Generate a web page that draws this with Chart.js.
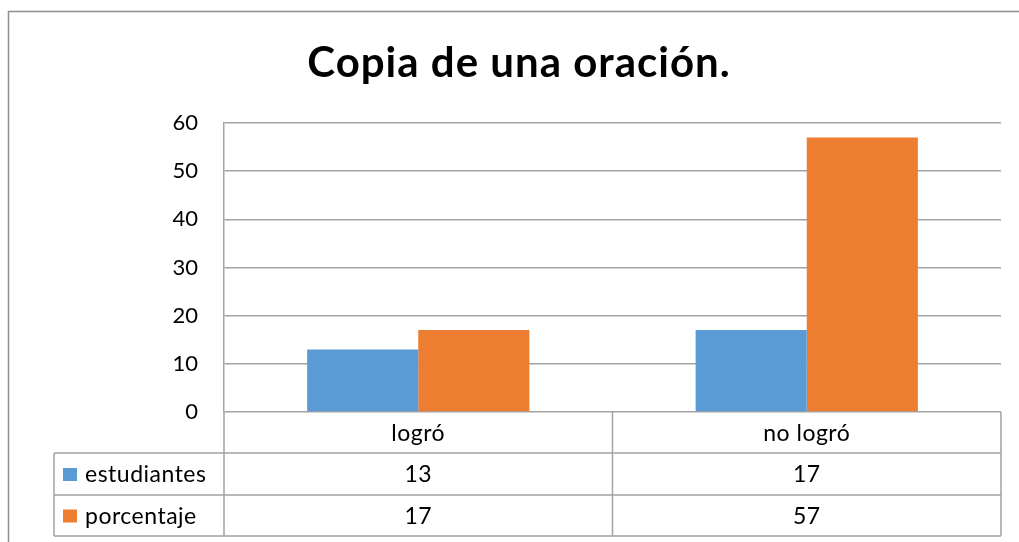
<!DOCTYPE html>
<html><head><meta charset="utf-8">
<script src="https://cdn.jsdelivr.net/npm/chart.js@4/dist/chart.umd.min.js"></script>
<style>html,body{margin:0;padding:0;background:#fff}#wrap{width:1019px;height:542px;position:relative}</style>
</head><body><div id="wrap"><canvas id="c" width="1019" height="542"></canvas></div>
<script>
const chartTitle = 'Copia de una oración.';
const categories = ['logró', 'no logró'];
const seriesNames = ['estudiantes', 'porcentaje'];
const estudiantes = [13, 17];
const porcentaje = [17, 57];
const yMin = 0, yMax = 60, yStep = 10;
const seriesColors = ['#5B9BD5', '#ED7D31'];
const seriesValues = [estudiantes, porcentaje];

const FONT = 'Lato, "Liberation Sans", sans-serif';
const GRID = '#a3a3a3';

const tablePlugin = {
  id: 'tablePlugin',
  afterDraw(chart) {
    const ctx = chart.ctx, ca = chart.chartArea, xs = chart.scales.x;
    ctx.save();
    // outer border
    ctx.strokeStyle = '#8f8f8f'; ctx.lineWidth = 1.5;
    ctx.strokeRect(8.5, 11.5, 1030, 560);
    // title
    ctx.fillStyle = '#000';
    ctx.font = 'bold 42px ' + FONT;
    ctx.letterSpacing = '1px';
    ctx.textAlign = 'center'; ctx.textBaseline = 'alphabetic';
    ctx.fillText(chartTitle, 519, 77);
    // table geometry
    const top = ca.bottom;
    const rows = [top, top + 41, top + 83, top + 124];
    const legLeft = 54;
    const mid = (xs.getPixelForValue(0) + xs.getPixelForValue(1)) / 2;
    ctx.strokeStyle = GRID; ctx.lineWidth = 1.5;
    ctx.beginPath();
    ctx.moveTo(legLeft, rows[1]); ctx.lineTo(ca.right, rows[1]);
    ctx.moveTo(legLeft, rows[2]); ctx.lineTo(ca.right, rows[2]);
    ctx.moveTo(legLeft, rows[3]); ctx.lineTo(ca.right, rows[3]);
    ctx.moveTo(legLeft, rows[1]); ctx.lineTo(legLeft, rows[3]);
    ctx.moveTo(ca.left, rows[0]); ctx.lineTo(ca.left, rows[3]);
    ctx.moveTo(mid, rows[0]); ctx.lineTo(mid, rows[3]);
    ctx.moveTo(ca.right, rows[0]); ctx.lineTo(ca.right, rows[3]);
    ctx.stroke();
    // text
    ctx.font = '23px ' + FONT;
    ctx.letterSpacing = '0.5px';
    ctx.fillStyle = '#000';
    ctx.textBaseline = 'middle';
    ctx.textAlign = 'center';
    categories.forEach((c, i) => ctx.fillText(c, xs.getPixelForValue(i), (rows[0] + rows[1]) / 2 + 1));
    seriesValues.forEach((vals, r) => {
      const cy = (rows[r + 1] + rows[r + 2]) / 2 + 1;
      vals.forEach((v, i) => ctx.fillText(String(v), xs.getPixelForValue(i), cy));
      ctx.fillStyle = seriesColors[r];
      ctx.fillRect(63, cy - 7, 14, 13);
      ctx.fillStyle = '#000';
      ctx.textAlign = 'left';
      ctx.fillText(seriesNames[r], 85, cy);
      ctx.textAlign = 'center';
    });
    ctx.restore();
  }
};

new Chart(document.getElementById('c'), {
  type: 'bar',
  data: {
    labels: categories,
    datasets: seriesNames.map((n, i) => ({
      label: n, data: seriesValues[i], backgroundColor: seriesColors[i],
      borderWidth: 0, categoryPercentage: 0.572, barPercentage: 1.0
    }))
  },
  options: {
    responsive: false, animation: false,
    layout: { padding: { top: 123, bottom: 130, left: 0, right: 18 } },
    plugins: { legend: { display: false }, title: { display: false }, tooltip: { enabled: false } },
    scales: {
      x: { display: false },
      y: {
        min: yMin, max: yMax,
        ticks: { stepSize: yStep, color: '#000', font: { family: FONT, size: 22 }, padding: 26 },
        grid: { color: GRID, lineWidth: 1.5, drawTicks: false },
        border: { display: true, color: GRID, width: 1.5 },
        afterFit(s) { s.width = 224; }
      }
    }
  },
  plugins: [tablePlugin]
});
</script></body></html>
